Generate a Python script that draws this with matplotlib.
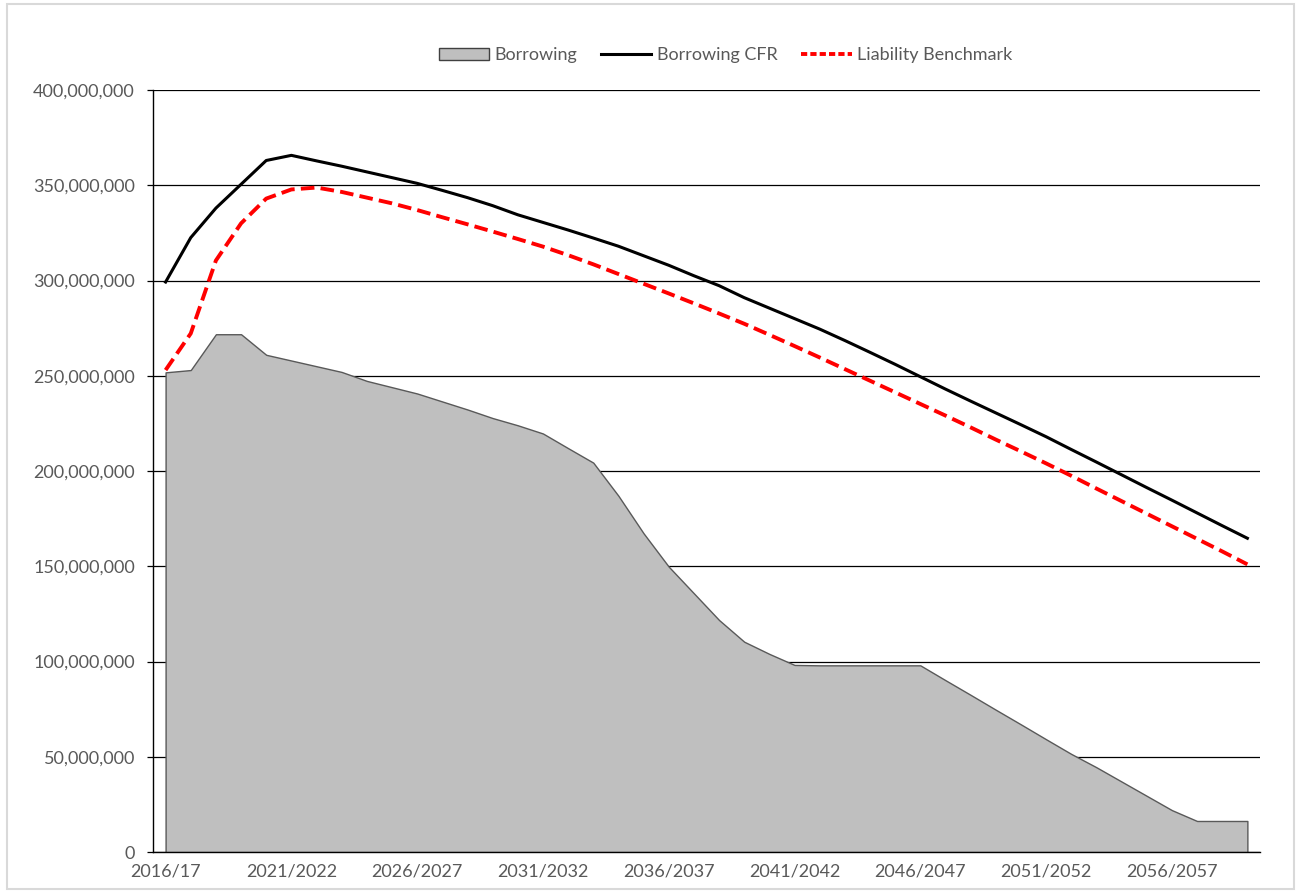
import numpy as np
import matplotlib.pyplot as plt
from matplotlib.patches import Patch, Rectangle
from matplotlib.lines import Line2D
from matplotlib.ticker import FuncFormatter, MultipleLocator

plt.rcParams['font.family'] = ['Lato', 'DejaVu Sans']

# Financial years (one point per year)
years = ['2016/17'] + [f'{y}/{y + 1}' for y in range(2017, 2060)]

# Values in millions
borrowing = [251.8, 253.0, 271.8, 271.8, 261.0, 258.0, 255.0, 252.0, 247.3, 244.0,
             240.7, 236.5, 232.3, 227.8, 224.0, 219.7, 212.0, 204.4, 187.0, 167.3,
             149.8, 135.8, 121.8, 110.4, 104.0, 98.2, 98.0, 98.0, 98.0, 98.0,
             98.0, 90.2, 82.5, 74.7, 67.0, 59.2, 51.5, 44.5, 37.0, 29.5,
             22.0, 16.3, 16.3, 16.3]
borrowing_cfr = [299.2, 322.5, 338.0, 350.5, 363.0, 365.7, 362.8, 360.0, 357.0, 354.0,
                 351.0, 347.3, 343.5, 339.3, 334.5, 330.5, 326.5, 322.3, 318.0, 313.0,
                 308.0, 302.5, 297.3, 291.0, 285.5, 280.0, 274.5, 268.5, 262.3, 256.0,
                 249.5, 243.0, 236.7, 230.5, 224.3, 218.0, 211.3, 204.7, 198.0, 191.3,
                 184.7, 178.0, 171.3, 164.7]
liability_benchmark = [253.0, 272.2, 310.5, 330.0, 343.0, 347.8, 348.8, 346.5, 343.5, 340.5,
                       337.0, 333.2, 329.5, 325.7, 321.8, 317.8, 313.3, 308.5, 303.4, 298.3,
                       293.2, 288.0, 282.7, 277.3, 271.5, 265.6, 259.6, 253.5, 247.4, 241.3,
                       235.2, 229.1, 222.9, 216.5, 210.3, 204.0, 197.5, 190.8, 184.2, 177.6,
                       171.0, 164.4, 157.8, 151.0]

x = np.arange(len(years))
b = np.array(borrowing) * 1e6
cfr = np.array(borrowing_cfr) * 1e6
lb = np.array(liability_benchmark) * 1e6

fig = plt.figure(figsize=(13, 8.92), dpi=100)
ax = fig.add_axes([0.1177, 0.0448, 0.8515, 0.8543])

# light grey frame around the whole chart
fig.patches.append(Rectangle((0.005, 0.003), 0.99, 0.993, transform=fig.transFigure,
                             fill=False, edgecolor='#d9d9d9', linewidth=1.5))

ax.fill_between(x, 0, b, facecolor='#bfbfbf', edgecolor='#595959', linewidth=1.0, zorder=2)
ax.plot(x, cfr, color='black', linewidth=2.2, zorder=3)
ax.plot(x, lb, color='#ff0000', linewidth=2.8, dashes=(3.5, 1.6), zorder=4)

ax.set_xlim(-0.5, len(years) - 0.5)
ax.set_ylim(0, 400e6)
ax.yaxis.set_major_locator(MultipleLocator(50e6))
ax.yaxis.set_major_formatter(FuncFormatter(lambda v, p: f'{v:,.0f}'))
ax.set_xticks(x[::5])
ax.set_xticklabels(years[::5])

ax.grid(axis='y', color='black', linewidth=0.9)
ax.set_axisbelow(True)
for side in ['top', 'right']:
    ax.spines[side].set_visible(False)
for side in ['left', 'bottom']:
    ax.spines[side].set_color('black')
    ax.spines[side].set_linewidth(1.0)
    ax.spines[side].set_zorder(5)

ax.tick_params(axis='y', length=4, width=0.9, pad=9, labelsize=13, labelcolor='#595959')
ax.tick_params(axis='x', length=0, pad=8, labelsize=13, labelcolor='#595959')

handles = [Patch(facecolor='#bfbfbf', edgecolor='#404040', linewidth=1.0),
           Line2D([], [], color='black', linewidth=2.2),
           Line2D([], [], color='#ff0000', linewidth=2.8, dashes=(1.6, 0.8))]
fig.legend(handles, ['Borrowing', 'Borrowing CFR', 'Liability Benchmark'],
           loc='center', bbox_to_anchor=(0.558, 0.938), ncol=3, frameon=False,
           fontsize=13, labelcolor='#595959', handlelength=2.8, handleheight=0.6,
           handletextpad=0.3, columnspacing=1.3)

fig.savefig('out.png', dpi=100)
